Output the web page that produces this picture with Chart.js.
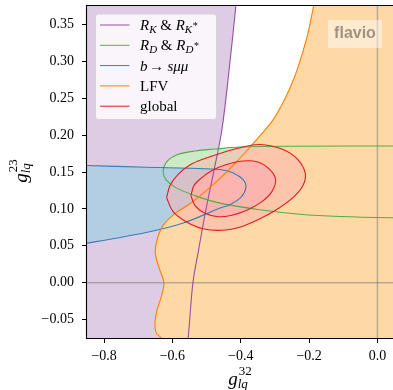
<!DOCTYPE html>
<html>
<head>
<meta charset="utf-8">
<script src="https://cdn.jsdelivr.net/npm/chart.js@4.4.0/dist/chart.umd.min.js"></script>
<style>
  html, body { margin: 0; padding: 0; background: #fff; }
  canvas { display: block; }
</style>
</head>
<body>
<canvas id="contourChart" width="393" height="390"></canvas>
<script>
const xTicks = [-0.8, -0.6, -0.4, -0.2, 0.0];
const yTicks = [-0.05, 0.00, 0.05, 0.10, 0.15, 0.20, 0.25, 0.30, 0.35];

// R_K & R_K* : allowed region lies left of the boundary
const rkX = [-0.409, -0.414, -0.434, -0.455, -0.478, -0.502, -0.5234, -0.540, -0.554, -0.560, -1.2, -1.2];
const rkY = [0.398, 0.3765, 0.289, 0.208, 0.153, 0.099, 0.0445, 0.000, -0.075, -0.092, -0.15, 0.45];

// R_D & R_D*
const rdX = [0.212, 0.0455, -0.227, -0.402, -0.475, -0.534, -0.584, -0.616, -0.627, -0.619, -0.590, -0.534, -0.461, -0.344, -0.227, -0.110, 0.0455, 0.212];
const rdY = [0.1853, 0.1853, 0.1850, 0.1839, 0.1812, 0.1785, 0.1737, 0.1642, 0.1506, 0.1397, 0.1288, 0.1180, 0.1078, 0.0989, 0.0928, 0.0897, 0.0880, 0.0873];

// b -> s mu mu
const bsX = [-0.988, -0.85, -0.677, -0.549, -0.461, -0.422, -0.393, -0.385, -0.397, -0.432, -0.461, -0.568, -0.677, -0.85, -0.988];
const bsY = [0.1604, 0.1588, 0.1565, 0.1550, 0.1533, 0.1488, 0.1397, 0.1302, 0.1170, 0.1057, 0.1012, 0.0808, 0.0680, 0.0536, 0.0445];

// LFV : allowed region lies right of the boundary
const lfvX = [-0.175, -0.186, -0.204, -0.227, -0.245, -0.271, -0.305, -0.348, -0.379, -0.414, -0.455, -0.505, -0.549, -0.593, -0.628, -0.645, -0.650, -0.639, -0.625, -0.633, -0.645, -0.651, -0.648, -0.633, -0.607, 0.4, 0.4];
const lfvY = [0.398, 0.3765, 0.337, 0.300, 0.276, 0.249, 0.221, 0.197, 0.1805, 0.163, 0.144, 0.123, 0.107, 0.0935, 0.077, 0.058, 0.040, 0.020, 0.000, -0.0195, -0.037, -0.0535, -0.067, -0.075, -0.086, -0.15, 0.5];

// global fit, 2 sigma and 1 sigma contours
const glob2X = [-0.617, -0.607, -0.584, -0.549, -0.505, -0.461, -0.402, -0.344, -0.276, -0.233, -0.211, -0.218, -0.244, -0.291, -0.350, -0.408, -0.455, -0.511, -0.560, -0.598, -0.617];
const glob2Y = [0.1152, 0.1316, 0.1465, 0.1595, 0.1683, 0.1751, 0.1829, 0.1873, 0.1805, 0.1669, 0.1479, 0.1316, 0.1166, 0.1003, 0.0853, 0.0744, 0.0710, 0.0731, 0.0826, 0.0962, 0.1152];
const glob1X = [-0.546, -0.537, -0.514, -0.484, -0.446, -0.394, -0.350, -0.315, -0.298, -0.309, -0.338, -0.379, -0.426, -0.467, -0.508, -0.534, -0.546];
const glob1Y = [0.1180, 0.1316, 0.1424, 0.1520, 0.1595, 0.1649, 0.1635, 0.1533, 0.1397, 0.1234, 0.1098, 0.0989, 0.0914, 0.0894, 0.0948, 0.1044, 0.1180];

const legendColors = ['#984ea3', '#4daf4a', '#377eb8', '#ff7f00', '#e41a1c'];

function pts(xs, ys) {
    return xs.map((x, i) => ({ x: x, y: ys[i] }));
}

function region(xs, ys, line, face, order) {
    return {
        data: pts(xs, ys),
        showLine: true,
        borderColor: line,
        backgroundColor: face,
        borderWidth: 1.1,
        fill: 'shape',
        tension: 0.35,
        pointRadius: 0,
        clip: 0,
        order: order
    };
}

function serif(size, italic) {
    return (italic ? 'italic ' : '') + size + 'px "Liberation Serif"';
}

function drawRuns(ctx, x, y, runs) {
    let cx = x;
    runs.forEach(r => {
        ctx.font = r[1];
        ctx.fillText(r[0], cx, y + (r[2] || 0));
        cx += ctx.measureText(r[0]).width + (r[3] || 0);
    });
}

// g with a superscript and an "lq" subscript stacked after it
function drawCoupling(ctx, cx, baseline, sup) {
    ctx.font = serif(19, true);
    const wg = ctx.measureText('g').width;
    ctx.font = serif(13, false);
    const ws = ctx.measureText(sup).width;
    ctx.font = serif(13, true);
    const wl = ctx.measureText('lq').width;
    const x0 = cx - (wg + Math.max(ws, wl) + 1) / 2;
    ctx.font = serif(19, true);
    ctx.fillText('g', x0, baseline);
    ctx.font = serif(13, false);
    ctx.fillText(sup, x0 + wg + 1, baseline - 10);
    ctx.font = serif(13, true);
    ctx.fillText('lq', x0 + wg, baseline + 3);
}

const decor = {
    id: 'decor',
    afterDatasetsDraw(chart) {
        const { ctx, chartArea } = chart;
        ctx.save();
        ctx.strokeStyle = '#000';
        ctx.lineWidth = 1.1;
        ctx.beginPath();
        ctx.moveTo(chartArea.right + 2, chartArea.top - 0.5);
        ctx.lineTo(chartArea.left - 0.5, chartArea.top - 0.5);
        ctx.lineTo(chartArea.left - 0.5, chartArea.bottom + 0.5);
        ctx.lineTo(chartArea.right + 2, chartArea.bottom + 0.5);
        ctx.stroke();
        ctx.restore();
    },
    afterDraw(chart) {
        const { ctx, chartArea } = chart;
        ctx.save();

        // flavio watermark
        ctx.fillStyle = 'rgba(255,255,255,0.45)';
        ctx.fillRect(328, 20, 54, 28);
        ctx.fillStyle = 'rgba(40,40,40,0.45)';
        ctx.font = 'bold 16px "Liberation Sans"';
        ctx.textAlign = 'center';
        ctx.textBaseline = 'alphabetic';
        ctx.fillText('flavio', 355, 38);
        ctx.textAlign = 'left';

        // legend
        ctx.beginPath();
        ctx.roundRect(95.5, 14, 121, 105.5, 3);
        ctx.fillStyle = 'rgba(255,255,255,0.8)';
        ctx.fill();
        ctx.strokeStyle = '#d4d4d4';
        ctx.lineWidth = 1;
        ctx.stroke();

        const rowY = [25, 45.3, 65.6, 85.9, 106.2];
        const labels = [
            [['R', serif(15, true)], ['K', serif(11, true), 3, 0], [' & ', serif(15, false)], ['R', serif(15, true)], ['K', serif(11, true), 3, 0.5], ['*', serif(10, false), -1]],
            [['R', serif(15, true)], ['D', serif(11, true), 3, 0], [' & ', serif(15, false)], ['R', serif(15, true)], ['D', serif(11, true), 3, 0.5], ['*', serif(10, false), -1]],
            [['b', serif(15, true), 0, 1.5], ['\u2192', serif(15, false), 0, 3.5], ['s\u03bc\u03bc', serif(15, true)]],
            [['LFV', serif(15, false)]],
            [['global', serif(15, false)]]
        ];
        rowY.forEach((y, i) => {
            ctx.strokeStyle = legendColors[i];
            ctx.lineWidth = 1;
            ctx.beginPath();
            ctx.moveTo(100, y);
            ctx.lineTo(129.5, y);
            ctx.stroke();
            ctx.fillStyle = '#000';
            drawRuns(ctx, 140, y + 5, labels[i]);
        });

        // axis titles
        ctx.fillStyle = '#000';
        drawCoupling(ctx, (chartArea.left + chartArea.right) / 2, 385, '32');
        ctx.translate(27, 171);
        ctx.rotate(-Math.PI / 2);
        drawCoupling(ctx, 0, 0, '23');
        ctx.restore();
    }
};

const tickFont = { family: 'Liberation Serif', size: 14 };

const ctx = document.getElementById('contourChart').getContext('2d');
const chart = new Chart(ctx, {
    type: 'scatter',
    data: {
        datasets: [
            { data: [{ x: 0, y: -1 }, { x: 0, y: 1 }], showLine: true, borderColor: 'rgba(128,128,128,0.55)', borderWidth: 1.5, pointRadius: 0, fill: false, clip: 0, order: 20 },
            { data: [{ x: -2, y: 0 }, { x: 2, y: 0 }], showLine: true, borderColor: 'rgba(128,128,128,0.55)', borderWidth: 1.5, pointRadius: 0, fill: false, clip: 0, order: 20 },
            region(rkX, rkY, '#984ea3', '#decbe4', 10),
            region(rdX, rdY, '#4daf4a', '#ccebc5', 9),
            region(bsX, bsY, '#377eb8', '#b3cde3', 8),
            region(lfvX, lfvY, '#ff7f00', '#fed9a6', 7),
            region(glob2X, glob2Y, '#e41a1c', 'rgba(251,180,174,0.5)', 6),
            region(glob1X, glob1Y, '#e41a1c', '#fbb4ae', 5)
        ]
    },
    options: {
        responsive: false,
        animation: false,
        devicePixelRatio: 1,
        events: [],
        layout: { padding: { top: 6, left: 0, right: 0, bottom: 0 } },
        elements: { line: { capBezierPoints: false } },
        plugins: {
            legend: { display: false },
            tooltip: { enabled: false },
            filler: { drawTime: 'beforeDatasetsDraw' }
        },
        scales: {
            x: {
                type: 'linear',
                min: -0.85,
                max: 0.0455,
                afterBuildTicks: axis => { axis.ticks = xTicks.map(v => ({ value: v })); },
                afterFit: axis => { axis.height = 52; axis.paddingLeft = 0; axis.paddingRight = 0; },
                ticks: {
                    font: tickFont,
                    color: '#000',
                    padding: 5,
                    maxRotation: 0,
                    callback: v => (v < -1e-9 ? '\u2212' : '') + Math.abs(v).toFixed(1)
                },
                grid: { drawOnChartArea: false, drawTicks: true, tickLength: 5, color: '#000', lineWidth: 1 },
                border: { display: false }
            },
            y: {
                type: 'linear',
                min: -0.075,
                max: 0.375,
                afterBuildTicks: axis => { axis.ticks = yTicks.map(v => ({ value: v })); },
                afterFit: axis => { axis.width = 87; axis.paddingTop = 0; axis.paddingBottom = 0; },
                ticks: {
                    font: tickFont,
                    color: '#000',
                    padding: 8,
                    callback: v => (v < -1e-9 ? '\u2212' : '') + Math.abs(v).toFixed(2)
                },
                grid: { drawOnChartArea: false, drawTicks: true, tickLength: 5, color: '#000', lineWidth: 1 },
                border: { display: false }
            }
        }
    },
    plugins: [decor]
});
</script>
</body>
</html>
